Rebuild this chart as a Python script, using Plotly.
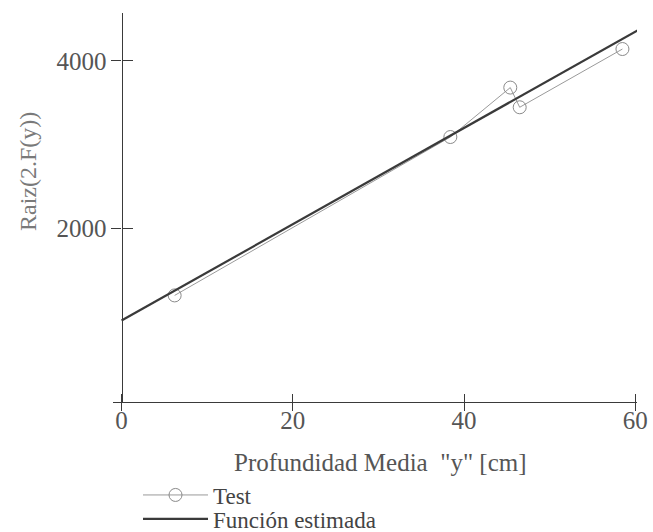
import plotly.graph_objects as go

# Measured test points: mean depth [cm] vs sqrt(2.F(y))
test_depth = [6.2, 38.4, 45.4, 46.5, 58.5]
test_value = [1200, 3090, 3680, 3445, 4140]

# Estimated (fitted) function, evaluated at its end points
fit_depth = [0.0, 60.4]
fit_value = [900, 4370]

x_ticks = [0, 20, 40, 60]
y_ticks = [2000, 4000]

x_range = [-1.0, 60.2]
y_range = [-72, 4570]

serif = "Liberation Serif, Times New Roman, serif"
ink = "#3a3a3a"
label_grey = "#555555"

# plot area in pixels: left 113, right 637, top 13, bottom 402
PL, PW, PB, PH = 113, 524, 402, 389
W, H = 653, 532


def px_x(x):
    return (x - PL) / PW


def px_y(y):
    return (PB - y) / PH


fig = go.Figure()

fig.add_trace(go.Scatter(
    x=test_depth, y=test_value, mode="lines+markers", name="Test",
    legend="legend",
    line=dict(color="#9a9a9a", width=1),
    marker=dict(symbol="circle-open", size=13, color="#8a8a8a",
                line=dict(width=1, color="#8a8a8a")),
))
fig.add_trace(go.Scatter(
    x=fit_depth, y=fit_value, mode="lines", name="Función estimada",
    legend="legend2",
    line=dict(color=ink, width=2.2),
))
# invisible point so the inner-tick overlay axes get drawn
fig.add_trace(go.Scatter(x=[30], y=[2000], xaxis="x2", yaxis="y2",
                         mode="markers", marker=dict(opacity=0),
                         showlegend=False, hoverinfo="skip"))

y_pos = (0 - x_range[0]) / (x_range[1] - x_range[0])

common_x = dict(range=x_range, tickvals=x_ticks, showgrid=False, zeroline=False,
                showline=True, linecolor=ink, linewidth=1.3, tickcolor=ink,
                tickwidth=1.3)
common_y = dict(range=y_range, tickvals=y_ticks, showgrid=False, zeroline=False,
                showline=True, linecolor=ink, linewidth=1.3, tickcolor=ink,
                tickwidth=1.3)

legend_common = dict(xref="container", yref="container", xanchor="left",
                     yanchor="middle", bgcolor="rgba(0,0,0,0)", itemwidth=65,
                     font=dict(family=serif, size=23, color="#444444"))

fig.update_layout(
    width=W, height=H,
    margin=dict(l=PL, r=W - PL - PW, t=PB - PH, b=H - PB, autoexpand=False),
    paper_bgcolor="white", plot_bgcolor="white",
    font=dict(family=serif, color=label_grey, size=25),
    xaxis=dict(**common_x, ticks="outside", ticklen=8, ticklabelstandoff=-12,
               tickfont=dict(family=serif, size=25, color=label_grey)),
    yaxis=dict(**common_y, ticks="outside", ticklen=10, anchor="free",
               position=y_pos,
               tickfont=dict(family=serif, size=25, color=label_grey)),
    xaxis2=dict(**common_x, ticks="inside", ticklen=8, overlaying="x",
                anchor="y2", side="bottom", showticklabels=False),
    yaxis2=dict(**common_y, ticks="inside", ticklen=10, overlaying="y",
                anchor="free", position=y_pos, side="left",
                showticklabels=False),
    showlegend=True,
    legend=dict(**legend_common, x=138 / W, y=1 - 495 / H),
    legend2=dict(**legend_common, x=138 / W, y=1 - 519 / H),
    annotations=[
        dict(text='Profundidad Media  "y" [cm]', xref="paper", yref="paper",
             x=px_x(380), y=px_y(462),
             xanchor="center", yanchor="middle",
             showarrow=False, font=dict(family=serif, size=25, color=label_grey)),
        dict(text="Raiz(2.F(y))", xref="paper", yref="paper",
             x=px_x(28), y=px_y(172),
             xanchor="center", yanchor="middle", textangle=-90,
             showarrow=False, font=dict(family=serif, size=24, color="#7a7a7a")),
    ],
)

fig.write_html("out.html")
